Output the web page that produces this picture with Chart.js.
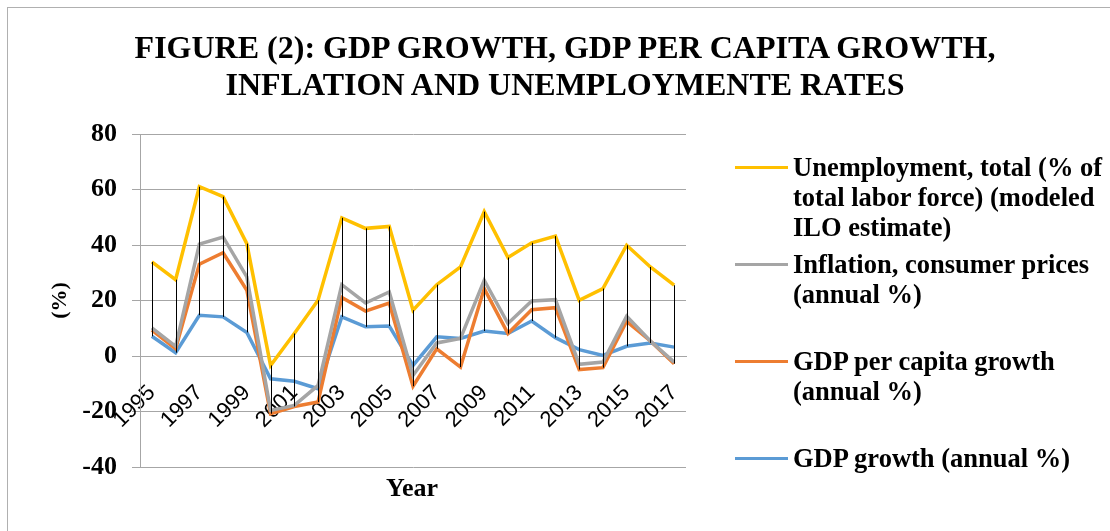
<!DOCTYPE html>
<html>
<head>
<meta charset="utf-8">
<script src="https://cdn.jsdelivr.net/npm/chart.js@4.4.0/dist/chart.umd.min.js"></script>
<style>
  html, body { margin: 0; padding: 0; background: #fff; }
  body { width: 1110px; height: 531px; position: relative; overflow: hidden; font-family: "Liberation Serif", "Times New Roman", serif; color: #000; }
  #frame { position: absolute; left: 7px; top: 7px; width: 1200px; height: 600px; border-left: 1px solid #b0b0b0; border-top: 1px solid #b0b0b0; }
  #title { position: absolute; left: 565px; top: 29px; transform: translateX(-50%); white-space: nowrap; text-align: center; font-weight: bold; font-size: 32px; line-height: 37px; }
  #chartBox { position: absolute; left: 0; top: 0; width: 1110px; height: 531px; }
  #xTitle { position: absolute; left: 412px; top: 474px; transform: translateX(-50%); font-weight: bold; font-size: 26px; line-height: 28px; }
  .lg-item { position: absolute; left: 735px; width: 375px; }
  .lg-line { position: absolute; left: 0; top: 14px; width: 53px; height: 3px; }
  .lg-text { position: absolute; left: 58px; width: 320px; font-weight: bold; font-size: 26.5px; line-height: 30px; }
</style>
</head>
<body>
<div id="frame"></div>
<div id="chartBox"><canvas id="gdpChart" width="1110" height="531"></canvas></div>
<div id="title">FIGURE (2): GDP GROWTH, GDP PER CAPITA GROWTH,<br>INFLATION AND UNEMPLOYMENTE RATES</div>
<div id="xTitle">Year</div>
<div id="legend"></div>
<script>
// data (stacked line chart, values are the single series)
const years = ['1995', '1996', '1997', '1998', '1999', '2000', '2001', '2002', '2003', '2004', '2005', '2006',
               '2007', '2008', '2009', '2010', '2011', '2012', '2013', '2014', '2015', '2016', '2017'];
const gdpGrowth          = [7.1, 1.2, 14.7, 14.1, 8.5, -8.2, -9.1, -11.8, 14.1, 10.5, 10.8, -3.4, 6.9, 6.3, 9.0, 8.1, 12.6, 6.6, 2.3, 0.2, 3.5, 4.7, 3.2];
const gdpPerCapitaGrowth = [2.2, 1.4, 18.4, 23.1, 15.2, -12.6, -9.1, -4.8, 7.0, 5.7, 8.3, -7.5, -4.3, -10.3, 15.3, 0.0, 4.1, 10.8, -7.2, -4.4, 9.0, 0.7, -6.0];
const inflation          = [0.8, 0.9, 7.2, 5.7, 4.8, 1.2, 0.4, 6.0, 4.6, 2.9, 4.0, 3.9, 2.1, 10.3, 3.0, 3.6, 3.1, 2.9, 1.9, 2.0, 1.8, 0.0, 0.6];
const unemployment       = [23.8, 24.0, 20.7, 14.5, 12.0, 16.2, 25.9, 30.7, 24.1, 26.9, 23.6, 23.5, 21.0, 25.8, 24.7, 23.8, 21.0, 22.9, 23.1, 26.5, 25.6, 26.7, 27.7];
const yMin = -40, yMax = 80, yStep = 20;

const seriesNames = [
  'GDP growth (annual %)',
  'GDP per capita growth (annual %)',
  'Inflation, consumer prices (annual %)',
  'Unemployment, total (% of total labor force) (modeled ILO estimate)'
];
const seriesColors = ['#5b9bd5', '#ed7d31', '#a5a5a5', '#ffc000'];

// excel stacks every value regardless of sign, so build running totals here
function stackUp(list) {
  let running = years.map(() => 0);
  return list.map(s => {
    running = running.map((v, i) => Math.round((v + s[i]) * 10) / 10);
    return running.slice();
  });
}
const stacked = stackUp([gdpGrowth, gdpPerCapitaGrowth, inflation, unemployment]);

const datasets = stacked.map((vals, i) => ({
  label: seriesNames[i],
  data: vals,
  borderColor: seriesColors[i],
  backgroundColor: seriesColors[i],
  borderWidth: 3.5,
  pointRadius: 0,
  tension: 0,
  fill: false,
  order: 3 - i   // later series drawn on top, like excel
}));

// black high-low lines between top and bottom series at each year
const highLowLines = {
  id: 'highLowLines',
  afterDatasetsDraw(chart) {
    const metas = chart.data.datasets.map((d, i) => chart.getDatasetMeta(i));
    const ctx = chart.ctx;
    ctx.save();
    ctx.strokeStyle = '#000';
    ctx.lineWidth = 1;
    years.forEach((yr, j) => {
      const ys = metas.map(m => m.data[j].y);
      const x = Math.round(metas[0].data[j].x) + 0.5;
      ctx.beginPath();
      ctx.moveTo(x, Math.min(...ys));
      ctx.lineTo(x, Math.max(...ys));
      ctx.stroke();
    });
    ctx.restore();
  }
};

const ctx = document.getElementById('gdpChart').getContext('2d');
const gdpChart = new Chart(ctx, {
  type: 'line',
  data: { labels: years, datasets: datasets },
  plugins: [highLowLines],
  options: {
    responsive: false,
    animation: false,
    devicePixelRatio: 1,
    layout: { padding: { top: 134, right: 424, bottom: 64, left: 30 } },
    plugins: {
      legend: { display: false },
      tooltip: { enabled: false }
    },
    scales: {
      x: {
        type: 'category',
        position: { y: 0 },
        offset: true,
        grid: { display: false, drawTicks: false },
        border: { display: true, color: '#a6a6a6', width: 1 },
        ticks: {
          autoSkip: false,
          maxRotation: 45,
          minRotation: 45,
          padding: 24,
          color: '#000',
          font: { family: 'Liberation Sans', size: 22 },
          callback: function (val, index) {
            return index % 2 ? '' : this.getLabelForValue(val);
          }
        }
      },
      y: {
        min: yMin,
        max: yMax,
        ticks: {
          stepSize: yStep,
          padding: 15,
          color: '#000',
          font: { family: 'Liberation Serif', size: 26, weight: 'bold' }
        },
        grid: { color: '#a6a6a6', tickLength: 8 },
        border: { color: '#a6a6a6' },
        title: {
          display: true,
          text: '(%)',
          color: '#000',
          font: { family: 'Liberation Serif', size: 22, weight: 'bold' },
          padding: { top: 17, bottom: 0 }
        },
        afterFit: function (scale) { scale.width = 110; }
      }
    }
  }
});

// html legend, top of the stack first
function buildLegend() {
  const box = document.getElementById('legend');
  box.innerHTML = '';
  const items = gdpChart.data.datasets.slice().sort((a, b) => a.order - b.order);
  items.forEach((ds, i) => {
    const item = document.createElement('div');
    item.className = 'lg-item';
    item.style.top = (152 + i * 97) + 'px';
    item.innerHTML = `
      <span class="lg-line" style="background:${ds.borderColor}"></span>
      <span class="lg-text">${ds.label}</span>`;
    box.appendChild(item);
  });
}
buildLegend();
</script>
</body>
</html>
